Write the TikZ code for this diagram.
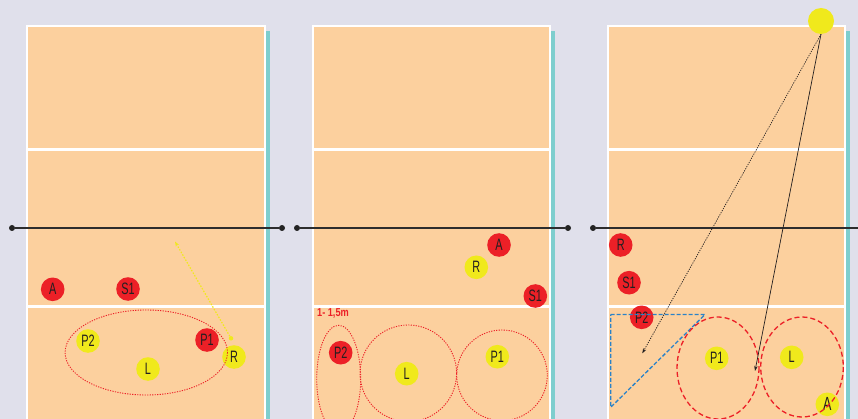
\documentclass[tikz,border=0pt]{standalone}
\usepackage{fontspec}
\usepackage{graphicx}
\usetikzlibrary{arrows.meta}
\newfontfamily\pf{Liberation Sans}
\definecolor{bg}{RGB}{224,224,235}
\definecolor{court}{RGB}{252,208,158}
\definecolor{teal}{RGB}{126,206,206}
\definecolor{pred}{RGB}{236,32,39}
\definecolor{pyel}{RGB}{240,233,28}
\definecolor{pblue}{RGB}{42,130,200}
\definecolor{ink}{RGB}{35,31,32}
\newcommand\nm[1]{\scalebox{0.66}[1]{#1}}
\tikzset{
  pl/.style={circle, minimum size=23.6pt, inner sep=0pt, text=ink, font=\pf\fontsize{16.5}{16.5}\selectfont},
  rp/.style={pl, fill=pred},
  yp/.style={pl, fill=pyel},
  courtbox/.style={fill=court, draw=white, line width=2pt},
  tealbar/.style={fill=teal, draw=none},
  courtline/.style={white, line width=3pt},
  netline/.style={draw={rgb,255:red,45;green,45;blue,45}, line width=2pt},
  netdot/.style={circle, fill={rgb,255:red,35;green,35;blue,35}, minimum size=6pt, inner sep=0pt},
  reddot/.style={pred, line width=0.9pt, dash pattern=on 1.2pt off 1.3pt},
  reddash/.style={pred, line width=1.3pt, dash pattern=on 5pt off 3pt},
  bluedash/.style={pblue, line width=1.3pt, dash pattern=on 4pt off 2pt},
  tip/.style={-{Stealth[length=5pt,width=3.5pt]}},
}
\begin{document}
\begin{tikzpicture}[x=1pt,y=-1pt]
\useasboundingbox (0,0) rectangle (858,419);
\fill[bg] (0,0) rectangle (858,419);

% ---------- courts ----------
\foreach \L/\R in {26/265.5, 311.5/550.5, 607/845.5}{
  \fill[tealbar] (\R,31) rectangle (\R+4.5,430);
  \draw[courtbox] (\L+1,26) rectangle (\R-1,440);
  \draw[courtline] (\L+1,149.7) -- (\R-1,149.7);
  \draw[courtline] (\L+1,306.7) -- (\R-1,306.7);
}

% ---------- nets ----------
\node[netdot] (n1a) at (12,228) {};
\node[netdot] (n1b) at (282,228) {};
\draw[netline] (n1a) -- (n1b);
\node[netdot] (n2a) at (297,228) {};
\node[netdot] (n2b) at (568,228) {};
\draw[netline] (n2a) -- (n2b);
\node[netdot] (n3a) at (593,228) {};
\coordinate (n3b) at (870,228);
\draw[netline] (n3a) -- (n3b);

% ---------- panel 1 ----------
\node[rp] (a1) at (52.7,289.3) {\nm{A}};
\node[rp] (s11) at (128,289) {\nm{S1}};
\node[yp] (p21) at (88,341) {\nm{P2}};
\node[rp] (p11) at (207,340) {\nm{P1}};
\node[yp] (l1) at (148,369) {\nm{L}};
\node[yp] (r1) at (234,357) {\nm{R}};
\draw[reddot] (146.3,352.5) ellipse [x radius=81.2, y radius=42.5];
\node[circle, fill=pyel, minimum size=4.5pt, inner sep=0pt] (d1) at (231,338.3) {};
\coordinate (t1) at (175,241.5);
\draw[tip, pyel, line width=1.2pt, dash pattern=on 1.5pt off 1.5pt] (d1) -- (t1);

% ---------- panel 2 ----------
\node[rp] (a2) at (499,245) {\nm{A}};
\node[yp] (r2) at (476.3,267.3) {\nm{R}};
\node[rp] (s12) at (535.3,296) {\nm{S1}};
\node[rp] (p22) at (340.7,352.7) {\nm{P2}};
\node[yp] (l2) at (406.7,373.7) {\nm{L}};
\node[yp] (p12) at (497.3,356.7) {\nm{P1}};
\node[text=pred, font=\pf\bfseries\fontsize{11.5}{12}\selectfont, inner sep=0pt] (dist) at (333,313) {\scalebox{0.8}[1]{1- 1,5m}};
\draw[reddot] (338.7,378.8) ellipse [x radius=22, y radius=53.5];
\draw[reddot] (408.3,373.3) circle [radius=48.3];
\draw[reddot] (502,375.3) circle [radius=45.3];

% ---------- panel 3 ----------
\node[rp] (r3) at (620.7,245) {\nm{R}};
\node[rp] (s13) at (629,282.7) {\nm{S1}};
\node[rp] (p23) at (641.7,317.3) {\nm{P2}};
\node[yp] (p13) at (716.7,358.3) {\nm{P1}};
\node[yp] (l3) at (791.7,357.3) {\nm{L}};
\node[yp, font=\pf\fontsize{19}{19}\selectfont] (a3) at (827.3,404.3) {\nm{A}};
\draw[bluedash] (610.7,314.5) -- (705,314.5) -- (610.7,407.3) -- cycle;
\draw[reddash] (718,368) ellipse [x radius=41, y radius=51];
\draw[reddash] (802,367) ellipse [x radius=41.3, y radius=50];
\node[circle, fill=pyel, minimum size=26pt, inner sep=0pt] (ball) at (821,21) {};
\coordinate (t2) at (642.3,353.3);
\coordinate (t3) at (755,371);
\draw[tip, ink, line width=0.7pt, dash pattern=on 1.2pt off 1.2pt] (ball.south) -- (t2);
\draw[tip, ink, line width=0.7pt] (ball.south) -- (t3);
\end{tikzpicture}
\end{document}
